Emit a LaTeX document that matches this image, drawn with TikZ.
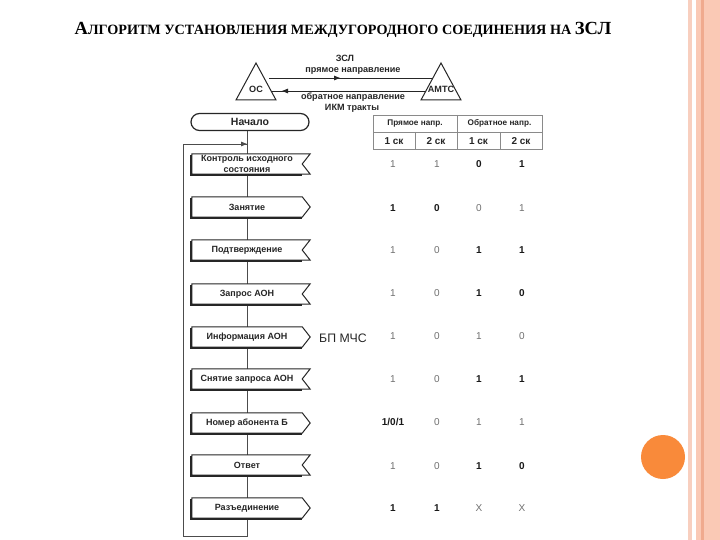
\documentclass[tikz,border=0pt]{standalone}
\usepackage{fontspec}
\setmainfont{Liberation Sans}
\newfontfamily\titlefont{Liberation Serif}
\usetikzlibrary{arrows.meta}
\definecolor{stripeA}{HTML}{F8CFBF}
\definecolor{stripeB}{HTML}{FAC9B5}
\definecolor{stripeC}{HTML}{F0AA8E}
\definecolor{dotC}{HTML}{F98A3A}
\definecolor{valgray}{HTML}{707070}
\definecolor{tabline}{HTML}{8A8A8A}
\pgfdeclarelayer{back}
\pgfdeclarelayer{bg}
\pgfdeclarelayer{shp}
\pgfsetlayers{back,bg,shp,main}
\newcommand\recvshape[1]{(#1.north west) -- ([xshift=8pt]#1.north east) -- (#1.east) -- ([xshift=8pt]#1.south east) -- (#1.south west) -- cycle}
\newcommand\sendshape[1]{(#1.north west) -- (#1.north east) -- ([xshift=8pt]#1.east) -- (#1.south east) -- (#1.south west) -- cycle}
\newcommand\shadowline[1]{([xshift=-0.7pt,yshift=-1pt]#1.north west) -- ([xshift=-0.7pt,yshift=-0.7pt]#1.south west) -- ([yshift=-0.7pt]#1.south east)}
\newcommand\sigbox[4]{%
  \node[box] (#1) at (247,#2) {#4};
  \begin{pgfonlayer}{shp}
    \draw[outline] \csname #3shape\endcsname{#1};
    \draw[line width=1.4pt, black!85] \shadowline{#1};
  \end{pgfonlayer}}
\begin{document}
\begin{tikzpicture}[x=1pt,y=-1pt,
  lbl/.style={font=\fontsize{9}{10.5}\selectfont\bfseries, text=black!85},
  box/.style={lbl, minimum width=110pt, minimum height=20pt, inner sep=0pt, align=center},
  v/.style={font=\fontsize{10}{10}\selectfont, text=valgray},
  b/.style={font=\fontsize{10}{10}\selectfont\bfseries, text=black!90},
  conn/.style={draw=black!70, line width=0.8pt},
  outline/.style={draw=black!85, line width=1pt, fill=white},
  toplbl/.style={font=\fontsize{9.1}{9.5}\selectfont\bfseries, text=black!85},
  tabtxt/.style={font=\fontsize{8.2}{9}\selectfont\bfseries, text=black!85},
  tabsub/.style={font=\fontsize{10}{10}\selectfont\bfseries, text=black!85},
  tip/.style={-{Triangle[length=6pt,width=4.5pt]}},
]
\useasboundingbox (0,0) rectangle (720,540);
\begin{pgfonlayer}{back}
\fill[white] (0,0) rectangle (720,540);
\end{pgfonlayer}
% right decoration
\fill[stripeA] (688,0) rectangle (692,540);
\fill[stripeB] (696,0) rectangle (720,540);
\fill[stripeC] (701,0) rectangle (704,540);
\fill[dotC] (663,457) circle (22);
% title
\node[anchor=base, font=\titlefont\bfseries, text=black] (title) at (343,35)
  {{\fontsize{18.5}{18}\selectfont А}{\fontsize{14.2}{14}\selectfont ЛГОРИТМ УСТАНОВЛЕНИЯ МЕЖДУГОРОДНОГО СОЕДИНЕНИЯ НА }{\fontsize{18.5}{18}\selectfont ЗСЛ}};
% top scheme
\node[toplbl] (os) at (256,89) {ОС};
\node[toplbl, inner sep=0pt] (amts) at (441,89) {АМТС};
\draw[line width=1pt, black!85] ([shift={(0,-26)}]os.center) -- ([shift={(-20,11)}]os.center) -- ([shift={(20,11)}]os.center) -- cycle;
\draw[line width=1pt, black!85] ([shift={(0,-26)}]amts.center) -- ([shift={(-20,11)}]amts.center) -- ([shift={(20,11)}]amts.center) -- cycle;
\draw[line width=0.9pt, black!85] ([shift={(13,-11)}]os.center) -- ([shift={(-8,-11)}]amts.center);
\draw[line width=0.9pt, black!85, tip] ([shift={(13,-11)}]os.center) -- (340,78);
\draw[line width=0.9pt, black!85] ([shift={(16,2)}]os.center) -- ([shift={(-15,2)}]amts.center);
\draw[line width=0.9pt, black!85, tip] ([shift={(-15,2)}]amts.center) -- (282,91);
\node[toplbl] (zsl) at (345,58) {ЗСЛ};
\node[toplbl] (pr) at (353,71) {прямое направление};
\node[toplbl] (ob) at (353,97) {обратное направление};
\node[toplbl] (ikm) at (352,108) {ИКМ тракты};
% start
\node[draw=black!85, line width=1.2pt, rounded corners=8.5pt, minimum width=118pt, minimum height=17pt, inner sep=0pt, font=\fontsize{10.5}{11}\selectfont\bfseries, text=black!85, fill=white] (start) at (250,122) {Начало};
% signal boxes
\sigbox{s1}{164}{recv}{Контроль исходного\\состояния}
\sigbox{s2}{207}{send}{Занятие}
\sigbox{s3}{250}{recv}{Подтверждение}
\sigbox{s4}{294}{recv}{Запрос АОН}
\sigbox{s5}{337}{send}{Информация АОН}
\sigbox{s6}{379}{recv}{Снятие запроса АОН}
\sigbox{s7}{423}{send}{Номер абонента Б}
\sigbox{s8}{465}{recv}{Ответ}
\sigbox{s9}{508}{send}{Разъединение}
\node[font=\fontsize{12.3}{13}\selectfont, text=black!85] (bp) at (343,338) {БП МЧС};
% connectors
\coordinate (lb) at (247,536);
\coordinate (ll) at (183,536);
\coordinate (lt) at (183,144);
\coordinate (lj) at (247,144);
\begin{pgfonlayer}{bg}
  \draw[conn] (start.south -| s1.center) -- (s9.center);
  \draw[conn] (s9.center) -- (lb) -- (ll) -- (lt) -- (lj);
\end{pgfonlayer}
\draw[conn, tip] (lt) -- (lj);
% table
\draw[tabline, line width=0.7pt] (373,115) rectangle (542,149);
\draw[tabline, line width=0.7pt] (373,132) -- (542,132);
\draw[tabline, line width=0.7pt] (457,115) -- (457,149);
\draw[tabline, line width=0.7pt] (415,132) -- (415,149);
\draw[tabline, line width=0.7pt] (500,132) -- (500,149);
\node[tabtxt] (h1) at (415,123.5) {Прямое напр.};
\node[tabtxt] (h2) at (499.5,123.5) {Обратное напр.};
\node[tabsub] (c1) at (394,141) {1 ск};
\node[tabsub] (c2) at (436,141) {2 ск};
\node[tabsub] (c3) at (478.5,141) {1 ск};
\node[tabsub] (c4) at (521,141) {2 ск};
% values
\foreach \y/\sa/\ta/\sb/\tb/\sc/\tc/\sd/\td in {
  164/v/1/v/1/b/0/b/1,
  208/b/1/b/0/v/0/v/1,
  250/v/1/v/0/b/1/b/1,
  293/v/1/v/0/b/1/b/0,
  336/v/1/v/0/v/1/v/0,
  379/v/1/v/0/b/1/b/1,
  422/b/1{\slash}0{\slash}1/v/0/v/1/v/1,
  466/v/1/v/0/b/1/b/0,
  508/b/1/b/1/v/X/v/X}{
  \node[\sa] (va\y) at (393,\y) {\ta};
  \node[\sb] (vb\y) at (437,\y) {\tb};
  \node[\sc] (vc\y) at (479,\y) {\tc};
  \node[\sd] (vd\y) at (522,\y) {\td};
}
\end{tikzpicture}
\end{document}
